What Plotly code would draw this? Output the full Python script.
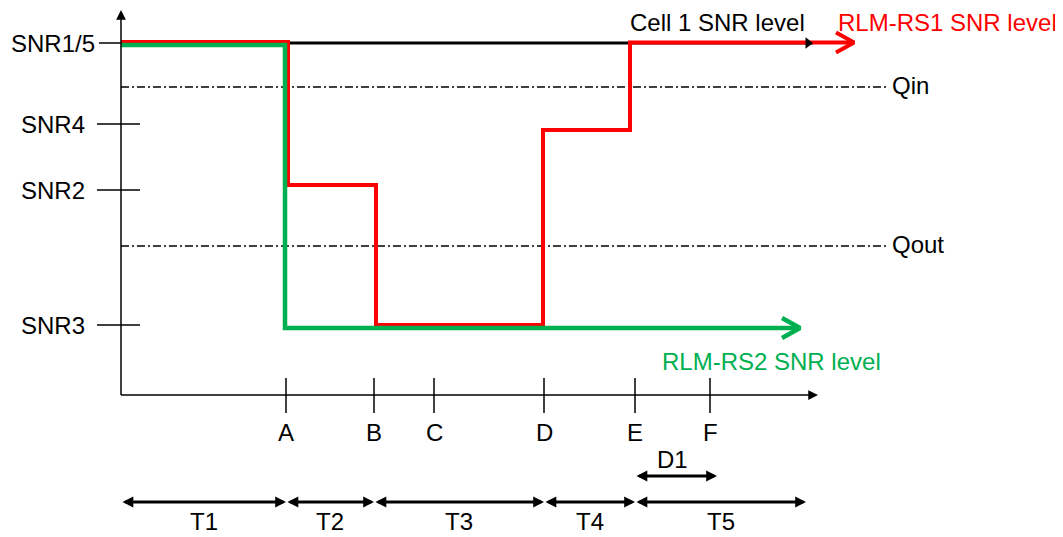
import plotly.graph_objects as go

# ---------------- data ----------------
event_labels = ["A", "B", "C", "D", "E", "F"]
event_times = [3.30, 5.06, 6.26, 8.46, 10.28, 11.78]

level_labels = ["SNR1/5", "SNR4", "SNR2", "SNR3"]
level_values = [35.2, 27.1, 20.5, 7.0]

threshold_labels = ["Qin", "Qout"]
threshold_values = [30.8, 14.9]
threshold_end = 15.34

cell1_t = [0.0, 13.84]
cell1_snr = [35.2, 35.2]

rs1_t = [0.0, 3.34, 3.34, 5.10, 5.10, 8.44, 8.44, 10.18, 10.18, 14.66]
rs1_snr = [35.3, 35.3, 21.0, 21.0, 7.0, 7.0, 26.5, 26.5, 35.25, 35.25]

rs2_t = [0.0, 3.28, 3.28, 13.58]
rs2_snr = [35.0, 35.0, 6.7, 6.7]

period_labels = ["T1", "T2", "T3", "T4", "T5"]
period_end = 13.70
d1_label = "D1"
d1_end = 11.92

x_axis_end = 13.94
y_axis_end = 38.5

# ---------------- style ----------------
FONT = "Liberation Sans, Arial, sans-serif"
FS = 24
RED = "#ff0000"
GREEN = "#00b050"
BLACK = "#000000"

fig = go.Figure()

# Qin / Qout dash-dot lines
for v in threshold_values:
    fig.add_shape(type="line", xref="x", yref="y", x0=0, x1=threshold_end, y0=v, y1=v,
                  line=dict(color="#000000", width=1.3, dash="8px,3px,2px,3px"), layer="below")

# axes
fig.add_shape(type="line", xref="x", yref="y", x0=0, x1=x_axis_end - 0.1, y0=0, y1=0,
              line=dict(color=BLACK, width=1.5))
fig.add_shape(type="line", xref="x", yref="y", x0=0, x1=0, y0=0, y1=y_axis_end - 0.5,
              line=dict(color=BLACK, width=1.5))
fig.add_annotation(x=x_axis_end, y=0, ax=x_axis_end - 0.2, ay=0, axref="x", ayref="y",
                   text="", showarrow=True, arrowhead=2, arrowwidth=1.5, arrowsize=1.3,
                   arrowcolor=BLACK)
fig.add_annotation(x=0, y=y_axis_end, ax=0, ay=y_axis_end - 1.0, axref="x", ayref="y",
                   text="", showarrow=True, arrowhead=2, arrowwidth=1.5, arrowsize=1.3,
                   arrowcolor=BLACK)

# y ticks + labels
for lab, v in zip(level_labels, level_values):
    right = 0.0 if lab == "SNR1/5" else 0.38
    left = -0.44 if lab == "SNR1/5" else -0.48
    fig.add_shape(type="line", xref="x", yref="y", x0=left, x1=right, y0=v, y1=v,
                  line=dict(color=BLACK, width=1.5))
    fig.add_annotation(x=left - 0.04, y=v, text=lab, showarrow=False, xanchor="right",
                       yanchor="middle", xshift=0 if lab == "SNR1/5" else -8,
                       font=dict(family=FONT, size=FS, color=BLACK))

# x ticks + labels
for lab, t in zip(event_labels, event_times):
    fig.add_shape(type="line", xref="x", yref="y", x0=t, x1=t, y0=1.7, y1=-1.8,
                  line=dict(color=BLACK, width=1.5))
    fig.add_annotation(x=t, y=-3.7, text=lab, showarrow=False, xanchor="center",
                       yanchor="middle", font=dict(family=FONT, size=FS, color=BLACK))

# series
fig.add_trace(go.Scatter(x=cell1_t, y=cell1_snr, mode="lines",
                         line=dict(color=BLACK, width=3), hoverinfo="skip"))
fig.add_trace(go.Scatter(x=rs1_t, y=rs1_snr, mode="lines",
                         line=dict(color=RED, width=4), hoverinfo="skip"))
fig.add_trace(go.Scatter(x=rs2_t, y=rs2_snr, mode="lines",
                         line=dict(color=GREEN, width=4.5), hoverinfo="skip"))

# arrow heads (chevrons) for RS1 / RS2
for xs, ys, col, w in [(rs1_t, rs1_snr, RED, 4), (rs2_t, rs2_snr, GREEN, 4.5)]:
    tx, ty = xs[-1], ys[-1]
    fig.add_trace(go.Scatter(x=[tx - 0.36, tx, tx - 0.36], y=[ty + 1.0, ty, ty - 1.0],
                             mode="lines", line=dict(color=col, width=w), hoverinfo="skip"))

# black cell-1 arrow head, drawn above the red line
fig.add_trace(go.Scatter(x=[cell1_t[-1] - 0.1], y=[cell1_snr[-1]], mode="markers",
                         marker=dict(symbol="triangle-right", size=10, color=BLACK,
                                     line=dict(width=0)),
                         hoverinfo="skip"))

# series labels
fig.add_annotation(x=10.14, y=37.3, text="Cell 1 SNR level", showarrow=False, xanchor="left",
                   yanchor="middle", font=dict(family=FONT, size=FS, color=BLACK))
fig.add_annotation(x=14.30, y=37.3, text="RLM-RS1 SNR level", showarrow=False, xanchor="left",
                   yanchor="middle", font=dict(family=FONT, size=FS, color=RED))
fig.add_annotation(x=10.78, y=3.4, text="RLM-RS2 SNR level", showarrow=False, xanchor="left",
                   yanchor="middle", font=dict(family=FONT, size=FS, color=GREEN))
for lab, v in zip(threshold_labels, threshold_values):
    fig.add_annotation(x=threshold_end + 0.04, y=v + 0.2, text=lab, showarrow=False,
                       xanchor="left", yanchor="middle",
                       font=dict(family=FONT, size=FS, color=BLACK))

# period arrows T1..T5
ev = dict(zip(event_labels, event_times))
bounds = [0.0, ev["A"], ev["B"], ev["D"], ev["E"], period_end]
for i, lab in enumerate(period_labels):
    a, b = bounds[i], bounds[i + 1]
    fig.add_annotation(x=b, y=-10.7, ax=a, ay=-10.7, axref="x", ayref="y", text="",
                       showarrow=True, arrowside="end+start", arrowhead=2, startarrowhead=2,
                       arrowwidth=3, arrowsize=0.72, startarrowsize=0.72, arrowcolor=BLACK)
    fig.add_annotation(x=(a + b) / 2, y=-12.65, text=lab, showarrow=False, xanchor="center",
                       yanchor="middle", font=dict(family=FONT, size=FS, color=BLACK))

# D1 arrow
fig.add_annotation(x=d1_end, y=-8.1, ax=ev["E"], ay=-8.1, axref="x", ayref="y", text="",
                   showarrow=True, arrowside="end+start", arrowhead=2, startarrowhead=2,
                   arrowwidth=3, arrowsize=0.72, startarrowsize=0.72, arrowcolor=BLACK)
fig.add_annotation(x=(ev["E"] + ev["F"]) / 2, y=-6.4, text=d1_label, showarrow=False,
                   xanchor="center", yanchor="middle",
                   font=dict(family=FONT, size=FS, color=BLACK))

# The page places the plot 8 px in from the top-left corner; ranges compensate.
fig.update_layout(
    width=1055, height=529, autosize=False,
    margin=dict(l=0, r=0, t=0, b=0),
    paper_bgcolor="white", plot_bgcolor="white",
    showlegend=False,
    xaxis=dict(range=[-2.26, 18.84], visible=False, fixedrange=True),
    yaxis=dict(range=[-14.2, 38.7], visible=False, fixedrange=True),
)

fig.write_html("out.html")
